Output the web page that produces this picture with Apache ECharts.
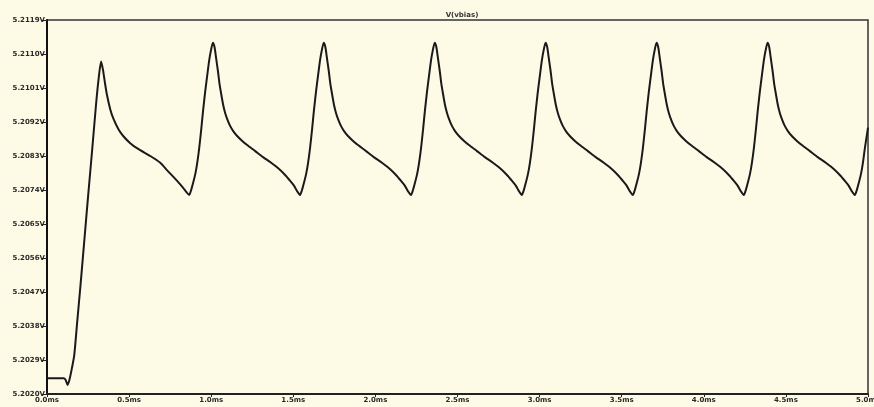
<!DOCTYPE html>
<html>
<head>
<meta charset="utf-8">
<script src="https://cdn.jsdelivr.net/npm/echarts@6/dist/echarts.min.js"></script>
<style>
  html, body { margin: 0; padding: 0; background: #fdfbe6; }
  #chart { width: 874px; height: 407px; }
</style>
</head>
<body>
<div id="chart"></div>
<script>
// Title / axis tick settings
const chartTitle = 'V(vbias)';
const xTickValues = [0, 0.5, 1.0, 1.5, 2.0, 2.5, 3.0, 3.5, 4.0, 4.5, 5.0];
const yTickValues = [5.2020, 5.2029, 5.2038, 5.2047, 5.2056, 5.2065, 5.2074, 5.2083, 5.2092, 5.2101, 5.2110, 5.2119];

// Start-up segment (time in ms, voltage in V)
const startTime = [0.000, 0.101, 0.113, 0.125, 0.138, 0.152, 0.166, 0.184, 0.203, 0.227, 0.251, 0.276, 0.300, 0.315, 0.329,
                   0.341, 0.352, 0.365, 0.385, 0.405, 0.436, 0.464, 0.507, 0.550, 0.629, 0.690, 0.732, 0.793, 0.830];
const startVolt = [5.20242, 5.20242, 5.20238, 5.20224, 5.20240, 5.20269, 5.20303, 5.20391, 5.20483, 5.20605, 5.20727, 5.20851, 5.20973, 5.21037, 5.21080,
                   5.21058, 5.21026, 5.20992, 5.20954, 5.20928, 5.20900, 5.20883, 5.20864, 5.20850, 5.20830, 5.20812, 5.20792, 5.20764, 5.20745];

// Steady-state cycles (each starts at a minimum)
const cycleTime1 = [0.866, 0.878, 0.890, 0.903, 0.915, 0.927, 0.939, 0.951, 0.963, 0.976, 0.988, 1.000, 1.010, 1.020, 1.030, 1.041, 1.050,
                    1.061, 1.073, 1.085, 1.100, 1.116, 1.134, 1.158, 1.189, 1.219, 1.268, 1.316, 1.365, 1.420, 1.456, 1.481, 1.505, 1.523];
const cycleTime2 = [1.541, 1.553, 1.565, 1.578, 1.590, 1.602, 1.614, 1.626, 1.638, 1.651, 1.663, 1.675, 1.685, 1.695, 1.705, 1.716, 1.725,
                    1.736, 1.748, 1.760, 1.775, 1.791, 1.809, 1.833, 1.864, 1.894, 1.943, 1.991, 2.040, 2.095, 2.131, 2.156, 2.180, 2.198];
const cycleTime3 = [2.217, 2.229, 2.241, 2.254, 2.266, 2.278, 2.290, 2.302, 2.314, 2.327, 2.339, 2.351, 2.361, 2.371, 2.381, 2.392, 2.401,
                    2.412, 2.424, 2.436, 2.451, 2.467, 2.485, 2.509, 2.540, 2.570, 2.619, 2.667, 2.716, 2.771, 2.807, 2.832, 2.856, 2.874];
const cycleTime4 = [2.892, 2.904, 2.916, 2.929, 2.941, 2.953, 2.965, 2.977, 2.989, 3.002, 3.014, 3.026, 3.036, 3.046, 3.056, 3.067, 3.076,
                    3.087, 3.099, 3.111, 3.126, 3.142, 3.160, 3.184, 3.215, 3.245, 3.294, 3.342, 3.391, 3.446, 3.482, 3.507, 3.531, 3.549];
const cycleTime5 = [3.568, 3.580, 3.592, 3.605, 3.617, 3.629, 3.641, 3.653, 3.665, 3.678, 3.690, 3.702, 3.712, 3.722, 3.732, 3.743, 3.752,
                    3.763, 3.775, 3.787, 3.802, 3.818, 3.836, 3.860, 3.891, 3.921, 3.970, 4.018, 4.067, 4.122, 4.158, 4.183, 4.207, 4.225];
const cycleTime6 = [4.244, 4.256, 4.268, 4.281, 4.293, 4.305, 4.317, 4.329, 4.341, 4.354, 4.366, 4.378, 4.388, 4.398, 4.408, 4.419, 4.428,
                    4.439, 4.451, 4.463, 4.478, 4.494, 4.512, 4.536, 4.567, 4.597, 4.646, 4.694, 4.743, 4.798, 4.834, 4.859, 4.883, 4.901];
const cycleVolt  = [5.20727, 5.20740, 5.20759, 5.20782, 5.20812, 5.20851, 5.20899, 5.20952, 5.20999, 5.21044, 5.21084, 5.21113, 5.21130,
                    5.21119, 5.21089, 5.21055, 5.21023, 5.20994, 5.20965, 5.20944, 5.20925, 5.20909, 5.20896, 5.20883, 5.20870, 5.20859,
                    5.20843, 5.20827, 5.20812, 5.20793, 5.20777, 5.20764, 5.20751, 5.20737];

// Final partial cycle
const endTime = [4.920, 4.932, 4.944, 4.957, 4.969, 4.981, 4.993, 5.000];
const endVolt = [5.20727, 5.20740, 5.20759, 5.20782, 5.20812, 5.20851, 5.20885, 5.20905];

const cycleTimes = [cycleTime1, cycleTime2, cycleTime3, cycleTime4, cycleTime5, cycleTime6];
const points = [];
startTime.forEach((t, i) => points.push([t, startVolt[i]]));
cycleTimes.forEach(ct => ct.forEach((t, i) => points.push([t, cycleVolt[i]])));
endTime.forEach((t, i) => points.push([t, endVolt[i]]));

const labelFont = { fontFamily: 'DejaVu Sans', fontSize: 7, fontWeight: 'bold', color: '#2a2a2a' };

const chart = echarts.init(document.getElementById('chart'), null, { renderer: 'canvas' });
chart.setOption({
  backgroundColor: '#fdfbe6',
  animation: false,
  title: {
    text: chartTitle,
    left: 457, top: 7, textAlign: 'center',
    textStyle: { fontFamily: 'DejaVu Sans', fontSize: 7, fontWeight: 'bold', color: '#333' }
  },
  grid: {
    left: 47, right: 6, top: 20, bottom: 13,
    containLabel: false, outerBoundsMode: 'none',
    show: true, backgroundColor: '#fdfbe6', borderColor: '#333', borderWidth: 1.5
  },
  xAxis: {
    type: 'value', min: 0, max: 5, interval: 0.5,
    axisLine: { show: true, onZero: false, lineStyle: { color: '#222', width: 2 } },
    axisTick: { show: true, length: 3, lineStyle: { color: '#222', width: 1 } },
    axisLabel: Object.assign({ margin: 3, formatter: v => v.toFixed(1) + 'ms' }, labelFont),
    splitLine: { show: false }
  },
  yAxis: {
    type: 'value', min: 5.2020, max: 5.2119, interval: 0.0009,
    axisLine: { show: true, onZero: false, lineStyle: { color: '#111', width: 2 } },
    axisTick: { show: true, length: 5, lineStyle: { color: '#222', width: 1 } },
    axisLabel: Object.assign({ margin: 2, formatter: v => v.toFixed(4) + 'V' }, labelFont),
    splitLine: { show: false }
  },
  series: [{
    type: 'line',
    data: points,
    showSymbol: false,
    smooth: 0.2,
    lineStyle: { color: '#1a1a1a', width: 2 }
  }]
});
</script>
</body>
</html>
